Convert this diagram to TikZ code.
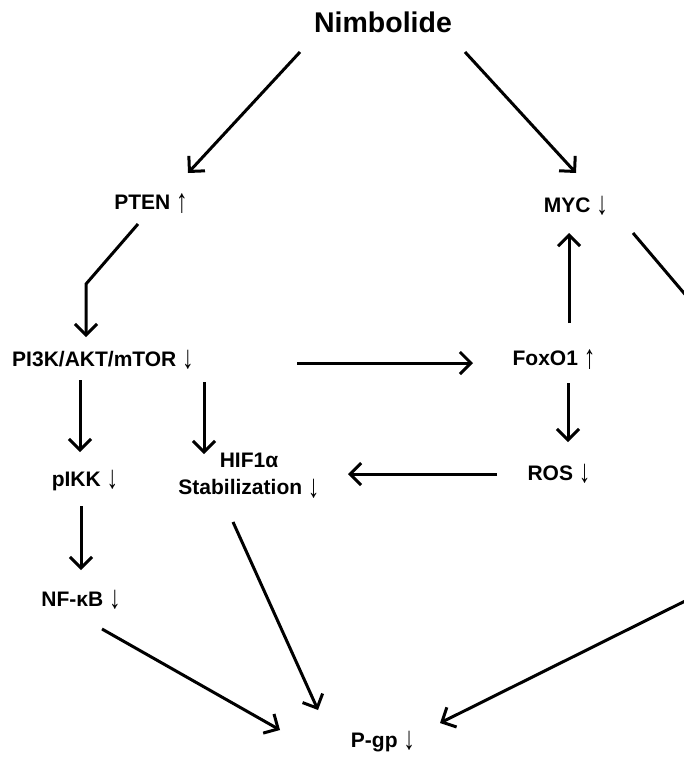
\documentclass[tikz,border=0pt]{standalone}
\usepackage{fontspec}
\setmainfont{Liberation Sans}
\usetikzlibrary{arrows.meta,calc}
\newcommand\arrdown{\raisebox{-2.5pt}{\scalebox{1.1}[1.55]{\mdseries ↓}}}
\newcommand\arrup{\raisebox{-3pt}{\scalebox{1.1}[1.6]{\mdseries ↑}}}
\tikzset{
  lbl/.style={inner sep=0pt, font=\bfseries\fontsize{21}{27}\selectfont, anchor=base},
  conn/.style={line width=3pt, line cap=butt, line join=miter,
    -{Straight Barb[length=11pt,width=22pt,line width=3pt]}},
}
\begin{document}
\begin{tikzpicture}[x=1pt,y=-1pt]
\fill[white] (0,0) rectangle (684,758);
\useasboundingbox (0,0) rectangle (684,758);
\node[lbl, font=\bfseries\fontsize{28.5}{32}\selectfont] (nim) at (383,32) {Nimbolide};
\node[lbl] (pten) at (151,209) {PTEN \arrup};
\node[lbl] (myc) at (576,212) {MYC \arrdown};
\node[lbl] (pi3k) at (103,366) {PI3K/AKT/mTOR \arrdown};
\node[lbl] (foxo) at (554,365) {FoxO1 \arrup};
\node[lbl] (pikk) at (85,486) {pIKK \arrdown};
\node[lbl, anchor=center, align=center] (hif) at (249,476) {HIF1α\\Stabilization \arrdown};
\node[lbl] (ros) at (559,480) {ROS \arrdown};
\node[lbl] (nfkb) at (81,606) {NF-κB \arrdown};
\node[lbl] (pgp) at (383,747) {P-gp \arrdown};

\draw[conn] ($(nim.base)+(-83,20)$) -- ($(pten.base)+(37,-36)$);
\draw[conn] ($(nim.base)+(82,20)$) -- ($(myc.base)+(0,-39)$);
\draw[conn] ($(pten.base)+(-13,15)$) -- ($(pi3k.base)+(-17,-82)$) -- ($(pi3k.base)+(-17,-29)$);
\draw[conn] ($(myc.base)+(57,21)$) -- ($(myc.base)+(292,298)$) -- ($(pgp.base)+(57,-24)$);
\draw[conn] ($(pi3k.base)+(194,-3)$) -- ($(foxo.base)+(-81,-2)$);
\draw[conn] ($(pi3k.base)+(-23,14)$) -- ($(pikk.base)+(-5,-34)$);
\draw[conn] ($(pi3k.base)+(101,16)$) -- ($(hif.center)+(-45,-22)$);
\draw[conn] ($(foxo.base)+(15,-42)$) -- ($(myc.base)+(-7,21)$);
\draw[conn] ($(foxo.base)+(14,18)$) -- ($(ros.base)+(9,-38)$);
\draw[conn] ($(ros.base)+(-62,-6)$) -- ($(hif.center)+(99,-2)$);
\draw[conn] ($(pikk.base)+(-4,20)$) -- ($(nfkb.base)+(0,-36)$);
\draw[conn] ($(nfkb.base)+(21,23)$) -- ($(pgp.base)+(-103,-17)$);
\draw[conn] ($(hif.center)+(-16,46)$) -- ($(pgp.base)+(-65,-37)$);
\end{tikzpicture}
\end{document}
